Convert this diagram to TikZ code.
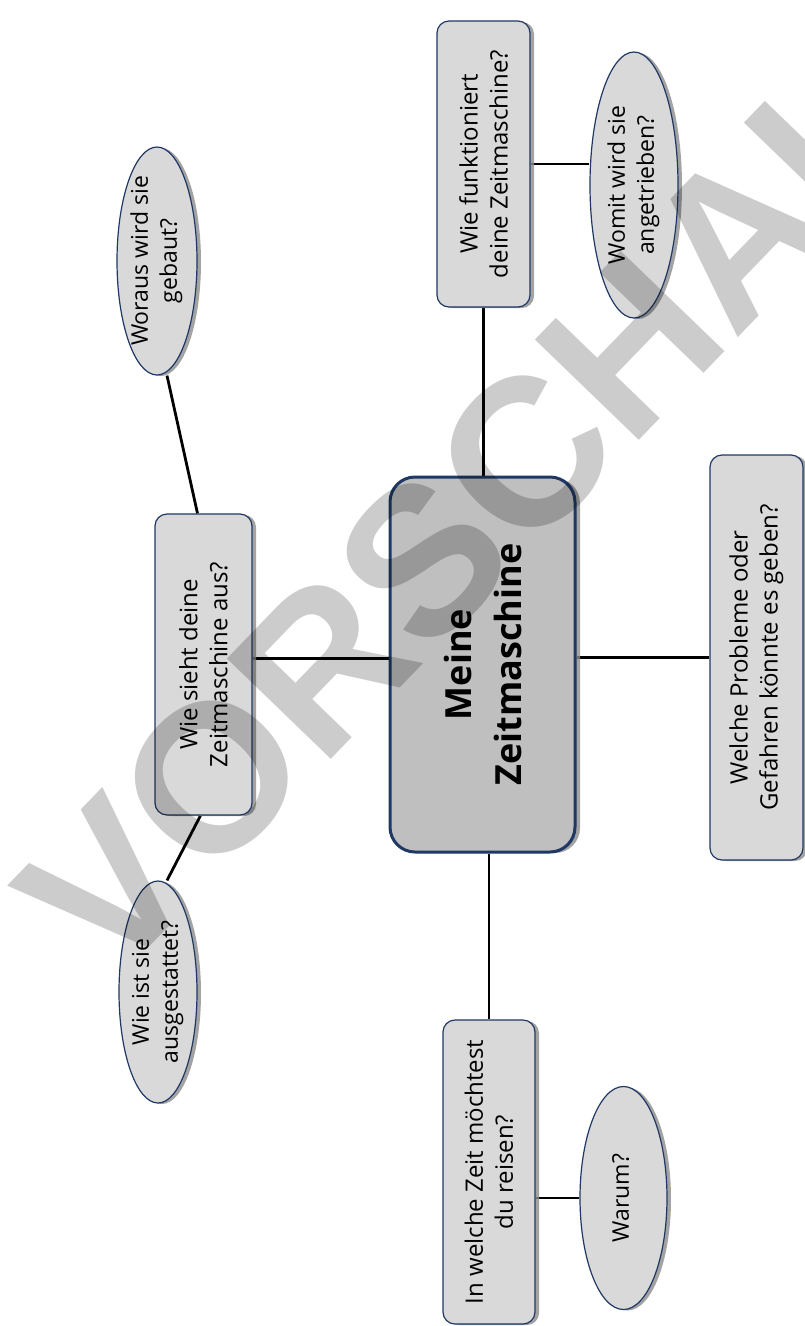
\documentclass[tikz,border=0pt]{standalone}
\usepackage{fontspec}
\setmainfont{Open Sans}
\newfontfamily\markfont{Liberation Sans}
\usetikzlibrary{shapes.geometric,shadows,backgrounds}
\definecolor{navy}{HTML}{1F3864}
\definecolor{boxgray}{HTML}{D9D9D9}
\definecolor{maingray}{HTML}{BFBFBF}
\newcommand{\bubbletext}[1]{\makebox[0pt]{\smash{\raisebox{-0.25em}{\begin{tabular}{@{}c@{}}#1\end{tabular}}}}}

\begin{document}
\begin{tikzpicture}[x=1pt,y=-1pt,
	question/.style={draw=navy,line width=1.2pt,fill=boxgray,rounded corners=12pt,rotate=90,align=center,inner sep=0pt,
		font=\fontsize{24}{30}\selectfont,drop shadow={shadow xshift=4pt,shadow yshift=-1pt,fill=black!45,opacity=0.8}},
	bubble/.style={question,ellipse,rounded corners=0pt,font=\fontsize{23}{29}\selectfont},
	link/.style={line width=2.8pt}]

	\useasboundingbox (0,0) rectangle (805,1326);
	\clip (0,0) rectangle (805,1326);

	\node[draw=navy,line width=3pt,fill=maingray,rounded corners=25pt,rotate=90,align=center,
		minimum width=375pt,minimum height=185pt,font=\bfseries\fontsize{36}{50}\selectfont,
		drop shadow={shadow xshift=5pt,shadow yshift=-1pt,fill=black!45,opacity=0.8}] (zeit) at (482.5,664.5) {Meine\\Zeitmaschine};

	\node[question,minimum width=301pt,minimum height=97pt] (aussehen) at (203.5,664.5) {Wie sieht deine\\Zeitmaschine aus?};
	\node[bubble,minimum width=228pt,minimum height=80pt] (material) at (157,261) {\bubbletext{Woraus wird sie\\gebaut?}};
	\node[bubble,minimum width=222pt,minimum height=78pt] (ausstattung) at (158,992) {\bubbletext{Wie ist sie\\ausgestattet?}};

	\node[question,minimum width=286pt,minimum height=93pt] (funktion) at (483.5,164) {Wie funktioniert\\deine Zeitmaschine?};
	\node[bubble,minimum width=266pt,minimum height=88pt] (antrieb) at (634,185) {\bubbletext{Womit wird sie\\angetrieben?}};

	\node[question,minimum width=405pt,minimum height=93pt] (gefahren) at (756.5,657.5) {Welche Probleme oder\\Gefahren könnte es geben?};

	\node[question,minimum width=304pt,minimum height=92pt] (reiseziel) at (489,1172) {In welche Zeit möchtest\\du reisen?};
	\node[bubble,minimum width=223pt,minimum height=87pt] (warum) at (623.5,1198) {\bubbletext{Warum?}};

	\begin{scope}[on background layer]
		\draw[link] ([xshift=-6pt]aussehen.east) -- ([xshift=10pt]material.west);
		\draw[link] ([xshift=-3pt]aussehen.west) -- ([xshift=9pt]ausstattung.east);
		\draw[link] ([yshift=6pt]aussehen.south) -- ([yshift=6pt]zeit.north);
		\draw[link] (funktion.west) -- (funktion.west |- zeit.east);
		\draw[link] (funktion.south) -- (funktion.south -| antrieb.north);
		\draw[link] (gefahren.north) -- (gefahren.north -| zeit.south);
		\draw[link] (reiseziel.east) -- (reiseziel.east |- zeit.west);
		\draw[link] ([yshift=-26pt]reiseziel.south) -- (warum.north);
	\end{scope}

	\node[rotate=46,text=black,opacity=0.2,font=\markfont\bfseries\fontsize{210}{210}\selectfont] (vorschau) at (476,505) {VORSCHAU};
\end{tikzpicture}
\end{document}
